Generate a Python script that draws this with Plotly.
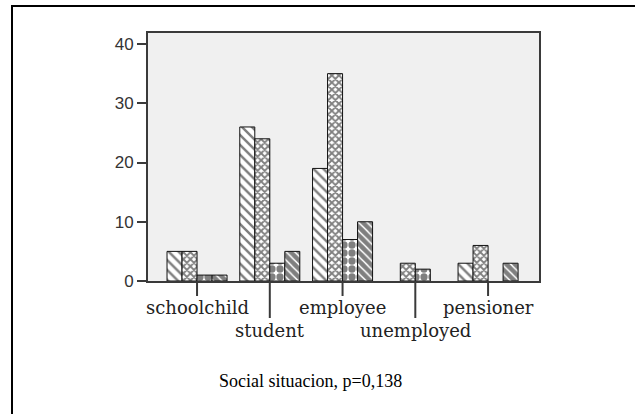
import plotly.graph_objects as go

categories = ["schoolchild", "student", "employee", "unemployed", "pensioner"]
series1 = [5, 26, 19, 0, 3]
series2 = [5, 24, 35, 3, 6]
series3 = [1, 3, 7, 2, 0]
series4 = [1, 5, 10, 0, 3]
y_ticks = [0, 10, 20, 30, 40]
title_text = "Social situacion, p=0,138"

W, H = 635, 414
L, R, T, B = 148, 96, 33, 133

patterns = [
    dict(shape="\\", fgcolor="black", bgcolor="white", size=7, solidity=0.35),
    dict(shape="x", fgcolor="black", bgcolor="white", size=5, solidity=0.6),
    dict(shape=".", fgcolor="black", bgcolor="white", size=8, solidity=0.65),
    dict(shape="\\", fgcolor="black", bgcolor="white", size=6, solidity=0.75),
]

fig = go.Figure()
for vals, pat in zip([series1, series2, series3, series4], patterns):
    fig.add_trace(go.Bar(
        x=categories, y=[v if v else None for v in vals],
        marker=dict(color="white", line=dict(color="#111", width=1), pattern=pat),
        showlegend=False,
    ))

fig.update_layout(
    width=W, height=H,
    margin=dict(l=L, r=R, t=T, b=B),
    paper_bgcolor="white",
    plot_bgcolor="#f0f0f0",
    barmode="group",
    bargap=0.175,
    bargroupgap=0,
    xaxis=dict(
        type="category", range=[-0.674, 4.70],
        showticklabels=False, ticks="",
        showline=True, linecolor="#3a3a3a", linewidth=2, mirror=True,
        showgrid=False, zeroline=False,
    ),
    yaxis=dict(
        range=[0, 41.86], tickvals=y_ticks,
        ticks="outside", ticklen=9, tickwidth=2, tickcolor="#3a3a3a",
        tickfont=dict(family="Liberation Sans, Arial", size=17, color="#333"),
        showline=True, linecolor="#3a3a3a", linewidth=2, mirror=True,
        showgrid=False, zeroline=False,
    ),
    font=dict(family="DejaVu Serif"),
)

# staggered category labels with tick lines
for i, c in enumerate(categories):
    long = (i % 2 == 1)
    fig.add_shape(type="line", xref="x", yref="paper",
                  x0=c, x1=c, y0=0, y1=-(37 if long else 15) / 248,
                  line=dict(color="#3a3a3a", width=2))
    fig.add_annotation(x=c, xref="x", yref="paper",
                       y=-(330 - 281) / 248 if long else -(307 - 281) / 248,
                       text=c, showarrow=False, yanchor="middle",
                       font=dict(family="DejaVu Serif", size=18, color="#222"))

fig.add_annotation(x=(310 - L) / 391, xref="paper", y=-(381 - 281) / 248, yref="paper",
                   text=title_text, showarrow=False, yanchor="middle",
                   font=dict(family="Liberation Serif, Times New Roman", size=18, color="black"))

# outer frame
fig.add_shape(type="rect", xref="paper", yref="paper",
              x0=(12 - L) / 391, x1=(700 - L) / 391,
              y0=(281 - 480) / 248, y1=(281 - 6) / 248,
              line=dict(color="black", width=2), layer="below")

fig.write_html("out.html", config={"displayModeBar": False},
               post_script="document.body.style.margin='0';")
